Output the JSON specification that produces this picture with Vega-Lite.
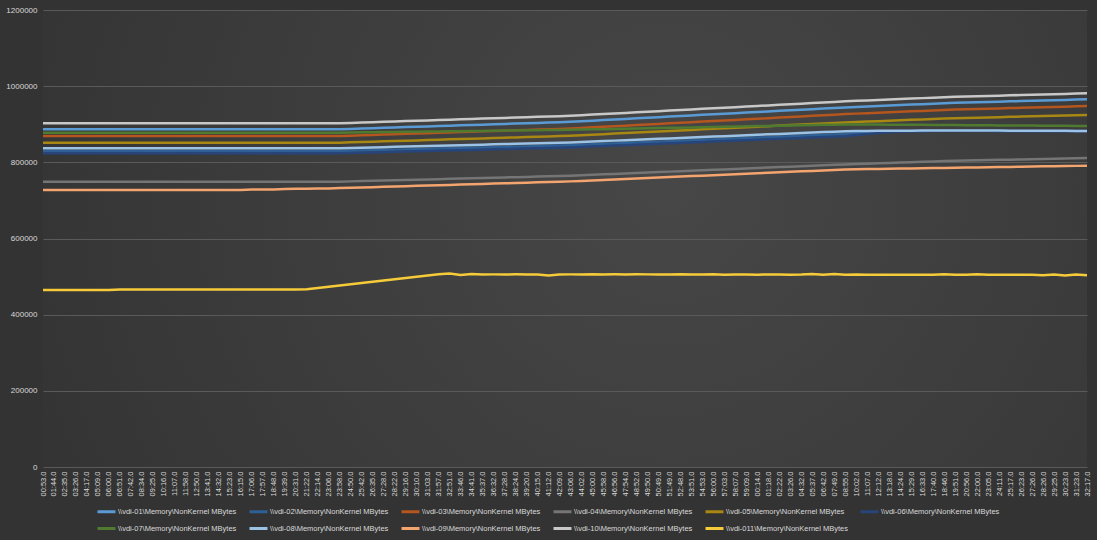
{
"$schema": "https://vega.github.io/schema/vega-lite/v6.json",
"width": 1044, "height": 457,
"autosize": {"type": "none"},
"padding": {"left": 43, "top": 10, "right": 10, "bottom": 73},
"background": "#333333",
"config": {
 "font": "Liberation Sans",
 "view": {"stroke": null, "fill": {"gradient": "radial", "x1": 0.6, "y1": 0.45, "x2": 0.6, "y2": 0.45, "r1": 0, "r2": 0.75, "stops": [{"offset": 0, "color": "#474747"}, {"offset": 1, "color": "#313131"}]}}
},
"data": {"values": [
{"t":"0:00:53.0","v01":886800,"v02":829500,"v03":869100,"v04":749200,"v05":851600,"v06":823800,"v07":878000,"v08":836900,"v09":727400,"v10":902600,"v011":464800},
{"t":"0:01:44.0","v01":886800,"v02":829500,"v03":869100,"v04":749200,"v05":851600,"v06":823800,"v07":878000,"v08":836900,"v09":727400,"v10":902600,"v011":464800},
{"t":"0:02:35.0","v01":886800,"v02":829500,"v03":869100,"v04":749200,"v05":851600,"v06":823800,"v07":878000,"v08":836900,"v09":727400,"v10":902600,"v011":464800},
{"t":"0:03:26.0","v01":886800,"v02":829500,"v03":869100,"v04":749200,"v05":851600,"v06":823800,"v07":878000,"v08":836900,"v09":727400,"v10":902600,"v011":464800},
{"t":"0:04:17.0","v01":886800,"v02":829500,"v03":869100,"v04":749200,"v05":851600,"v06":823800,"v07":878000,"v08":836900,"v09":727400,"v10":902600,"v011":464800},
{"t":"0:05:09.0","v01":886800,"v02":829500,"v03":869100,"v04":749200,"v05":851600,"v06":823800,"v07":878000,"v08":836900,"v09":727400,"v10":902600,"v011":464800},
{"t":"0:06:00.0","v01":886800,"v02":829500,"v03":869100,"v04":749200,"v05":851600,"v06":823800,"v07":878000,"v08":836900,"v09":727400,"v10":902600,"v011":464800},
{"t":"0:06:51.0","v01":886800,"v02":829500,"v03":869100,"v04":749200,"v05":851600,"v06":823800,"v07":878000,"v08":836900,"v09":727400,"v10":902600,"v011":466200},
{"t":"0:07:42.0","v01":886800,"v02":829500,"v03":869100,"v04":749200,"v05":851600,"v06":823800,"v07":878000,"v08":836900,"v09":727400,"v10":902600,"v011":466200},
{"t":"0:08:34.0","v01":886800,"v02":829500,"v03":869100,"v04":749200,"v05":851600,"v06":823800,"v07":878000,"v08":836900,"v09":727400,"v10":902600,"v011":466200},
{"t":"0:09:25.0","v01":886800,"v02":829500,"v03":869100,"v04":749200,"v05":851600,"v06":823800,"v07":878000,"v08":836900,"v09":727400,"v10":902600,"v011":466200},
{"t":"0:10:16.0","v01":886800,"v02":829500,"v03":869100,"v04":749200,"v05":851600,"v06":823800,"v07":878000,"v08":836900,"v09":727400,"v10":902600,"v011":466200},
{"t":"0:11:07.0","v01":886800,"v02":829500,"v03":869100,"v04":749200,"v05":851600,"v06":823800,"v07":878000,"v08":836900,"v09":727400,"v10":902600,"v011":466200},
{"t":"0:11:58.0","v01":886800,"v02":829500,"v03":869100,"v04":749200,"v05":851600,"v06":823800,"v07":878000,"v08":836900,"v09":727400,"v10":902600,"v011":466200},
{"t":"0:12:50.0","v01":886800,"v02":829500,"v03":869100,"v04":749200,"v05":851600,"v06":823800,"v07":878000,"v08":836900,"v09":727400,"v10":902600,"v011":466200},
{"t":"0:13:41.0","v01":886800,"v02":829500,"v03":869100,"v04":749200,"v05":851600,"v06":823800,"v07":878000,"v08":836900,"v09":727400,"v10":902600,"v011":466200},
{"t":"0:14:32.0","v01":886800,"v02":829500,"v03":869100,"v04":749200,"v05":851600,"v06":823800,"v07":878000,"v08":836900,"v09":727400,"v10":902600,"v011":466200},
{"t":"0:15:23.0","v01":886800,"v02":829500,"v03":869100,"v04":749200,"v05":851600,"v06":823800,"v07":878000,"v08":836900,"v09":727400,"v10":902600,"v011":466200},
{"t":"0:16:15.0","v01":886800,"v02":829500,"v03":869100,"v04":749200,"v05":851600,"v06":823800,"v07":878000,"v08":836900,"v09":727400,"v10":902600,"v011":466200},
{"t":"0:17:06.0","v01":886800,"v02":829500,"v03":869100,"v04":749200,"v05":851600,"v06":823800,"v07":878000,"v08":836900,"v09":728800,"v10":902600,"v011":466200},
{"t":"0:17:57.0","v01":886800,"v02":829500,"v03":869100,"v04":749200,"v05":851600,"v06":823800,"v07":878000,"v08":836900,"v09":728800,"v10":902600,"v011":466200},
{"t":"0:18:48.0","v01":886800,"v02":829500,"v03":869100,"v04":749200,"v05":851600,"v06":823800,"v07":878000,"v08":836900,"v09":728800,"v10":902600,"v011":466200},
{"t":"0:19:39.0","v01":886800,"v02":829500,"v03":869100,"v04":749200,"v05":851600,"v06":823800,"v07":878000,"v08":836900,"v09":730200,"v10":902600,"v011":466200},
{"t":"0:20:31.0","v01":886800,"v02":829500,"v03":869100,"v04":749200,"v05":851600,"v06":823800,"v07":878000,"v08":836900,"v09":730500,"v10":902600,"v011":466200},
{"t":"0:21:22.0","v01":886800,"v02":829500,"v03":869100,"v04":749200,"v05":851600,"v06":823800,"v07":878000,"v08":836900,"v09":730800,"v10":902600,"v011":467000},
{"t":"0:22:14.0","v01":886800,"v02":829500,"v03":869100,"v04":749200,"v05":851600,"v06":823800,"v07":878000,"v08":836900,"v09":731000,"v10":902600,"v011":470300},
{"t":"0:23:06.0","v01":886800,"v02":829500,"v03":869100,"v04":749200,"v05":851600,"v06":823800,"v07":878000,"v08":836900,"v09":731500,"v10":902600,"v011":473500},
{"t":"0:23:58.0","v01":886800,"v02":829500,"v03":869100,"v04":749200,"v05":851600,"v06":823800,"v07":878000,"v08":836900,"v09":732300,"v10":902600,"v011":476700},
{"t":"0:24:50.0","v01":887700,"v02":830200,"v03":870000,"v04":750000,"v05":852500,"v06":824500,"v07":878400,"v08":837600,"v09":733200,"v10":903500,"v011":480000},
{"t":"0:25:42.0","v01":888700,"v02":831000,"v03":871000,"v04":750700,"v05":853300,"v06":825300,"v07":878700,"v08":838400,"v09":734000,"v10":904500,"v011":483200},
{"t":"0:26:35.0","v01":889600,"v02":831700,"v03":871900,"v04":751400,"v05":854200,"v06":826000,"v07":879100,"v08":839100,"v09":734900,"v10":905400,"v011":486400},
{"t":"0:27:28.0","v01":890600,"v02":832500,"v03":872900,"v04":752200,"v05":855100,"v06":826800,"v07":879400,"v08":839900,"v09":735700,"v10":906400,"v011":489700},
{"t":"0:28:22.0","v01":891500,"v02":833200,"v03":873800,"v04":752900,"v05":856000,"v06":827500,"v07":879800,"v08":840600,"v09":736500,"v10":907300,"v011":492900},
{"t":"0:29:16.0","v01":892500,"v02":833900,"v03":874800,"v04":753700,"v05":856800,"v06":828200,"v07":880100,"v08":841300,"v09":737400,"v10":908300,"v011":496100},
{"t":"0:30:10.0","v01":893300,"v02":834600,"v03":875600,"v04":754400,"v05":857600,"v06":828900,"v07":880500,"v08":842000,"v09":738200,"v10":909100,"v011":499400},
{"t":"0:31:03.0","v01":894300,"v02":835300,"v03":876600,"v04":755100,"v05":858500,"v06":829600,"v07":880800,"v08":842700,"v09":739100,"v10":910100,"v011":502600},
{"t":"0:31:57.0","v01":895200,"v02":836100,"v03":877500,"v04":755900,"v05":859400,"v06":830400,"v07":881200,"v08":843500,"v09":739900,"v10":911000,"v011":505900},
{"t":"0:32:51.0","v01":896200,"v02":836900,"v03":878500,"v04":756700,"v05":860300,"v06":831200,"v07":881600,"v08":844300,"v09":740700,"v10":912000,"v011":508200},
{"t":"0:33:46.0","v01":897200,"v02":837600,"v03":879500,"v04":757400,"v05":861200,"v06":831900,"v07":881900,"v08":845000,"v09":741600,"v10":913000,"v011":504000},
{"t":"0:34:41.0","v01":898100,"v02":838300,"v03":880400,"v04":758100,"v05":862000,"v06":832600,"v07":882200,"v08":845700,"v09":742400,"v10":913900,"v011":506500},
{"t":"0:35:37.0","v01":899000,"v02":839000,"v03":881300,"v04":758800,"v05":862900,"v06":833300,"v07":882600,"v08":846400,"v09":743300,"v10":914800,"v011":505500},
{"t":"0:36:32.0","v01":899900,"v02":839800,"v03":882200,"v04":759600,"v05":863800,"v06":834100,"v07":882900,"v08":847200,"v09":744100,"v10":915700,"v011":505800},
{"t":"0:37:28.0","v01":900900,"v02":840500,"v03":883200,"v04":760300,"v05":864600,"v06":834800,"v07":883300,"v08":847900,"v09":744900,"v10":916700,"v011":505600},
{"t":"0:38:24.0","v01":901800,"v02":841200,"v03":884100,"v04":761100,"v05":865500,"v06":835500,"v07":883700,"v08":848600,"v09":745800,"v10":917600,"v011":505900},
{"t":"0:39:20.0","v01":902700,"v02":841900,"v03":885000,"v04":761800,"v05":866300,"v06":836200,"v07":884000,"v08":849300,"v09":746600,"v10":918500,"v011":505700},
{"t":"0:40:15.0","v01":903600,"v02":842600,"v03":885900,"v04":762500,"v05":867200,"v06":836900,"v07":884300,"v08":850000,"v09":747500,"v10":919400,"v011":505400},
{"t":"0:41:12.0","v01":904600,"v02":843400,"v03":886900,"v04":763300,"v05":868100,"v06":837700,"v07":884700,"v08":850800,"v09":748300,"v10":920400,"v011":502800},
{"t":"0:42:09.0","v01":905500,"v02":844100,"v03":887800,"v04":764000,"v05":868900,"v06":838400,"v07":885000,"v08":851500,"v09":749100,"v10":921300,"v011":505500},
{"t":"0:43:06.0","v01":906500,"v02":844900,"v03":888800,"v04":764800,"v05":869800,"v06":839200,"v07":885400,"v08":852300,"v09":750000,"v10":922300,"v011":505800},
{"t":"0:44:02.0","v01":908000,"v02":846000,"v03":890300,"v04":765900,"v05":871200,"v06":840300,"v07":886000,"v08":853400,"v09":751300,"v10":923800,"v011":505600},
{"t":"0:45:00.0","v01":909500,"v02":847200,"v03":891800,"v04":767200,"v05":872600,"v06":841500,"v07":886600,"v08":854600,"v09":752500,"v10":925300,"v011":506000},
{"t":"0:45:58.0","v01":911000,"v02":848400,"v03":893300,"v04":768400,"v05":874000,"v06":842700,"v07":887100,"v08":855800,"v09":753800,"v10":926800,"v011":505700},
{"t":"0:46:56.0","v01":912500,"v02":849600,"v03":894800,"v04":769500,"v05":875400,"v06":843900,"v07":887700,"v08":857000,"v09":755000,"v10":928300,"v011":505900},
{"t":"0:47:54.0","v01":914000,"v02":850700,"v03":896300,"v04":770700,"v05":876800,"v06":845000,"v07":888200,"v08":858100,"v09":756300,"v10":929800,"v011":505500},
{"t":"0:48:52.0","v01":915600,"v02":852000,"v03":897900,"v04":772000,"v05":878200,"v06":846300,"v07":888800,"v08":859400,"v09":757500,"v10":931400,"v011":506100},
{"t":"0:49:50.0","v01":917100,"v02":853100,"v03":899400,"v04":773200,"v05":879600,"v06":847400,"v07":889400,"v08":860500,"v09":758800,"v10":932900,"v011":505800},
{"t":"0:50:49.0","v01":918600,"v02":854300,"v03":900900,"v04":774300,"v05":881000,"v06":848600,"v07":890000,"v08":861700,"v09":760000,"v10":934400,"v011":505600},
{"t":"0:51:49.0","v01":920200,"v02":855500,"v03":902500,"v04":775600,"v05":882500,"v06":849800,"v07":890600,"v08":862900,"v09":761300,"v10":936000,"v011":505200},
{"t":"0:52:48.0","v01":921700,"v02":856700,"v03":904000,"v04":776800,"v05":883900,"v06":851000,"v07":891100,"v08":864100,"v09":762500,"v10":937500,"v011":506000},
{"t":"0:53:51.0","v01":923200,"v02":857900,"v03":905500,"v04":777900,"v05":885200,"v06":852200,"v07":891700,"v08":865300,"v09":763800,"v10":939000,"v011":505700},
{"t":"0:54:53.0","v01":924700,"v02":859000,"v03":907000,"v04":779100,"v05":886600,"v06":853300,"v07":892200,"v08":866400,"v09":765000,"v10":940500,"v011":505400},
{"t":"0:56:00.0","v01":926200,"v02":860200,"v03":908500,"v04":780300,"v05":888000,"v06":854500,"v07":892800,"v08":867600,"v09":766300,"v10":942000,"v011":505800},
{"t":"0:57:03.0","v01":927600,"v02":861400,"v03":909900,"v04":781500,"v05":889400,"v06":855700,"v07":893400,"v08":868800,"v09":767500,"v10":943400,"v011":504900},
{"t":"0:58:07.0","v01":929100,"v02":862500,"v03":911400,"v04":782700,"v05":890800,"v06":856800,"v07":893900,"v08":869900,"v09":768800,"v10":944900,"v011":505600},
{"t":"0:59:09.0","v01":930700,"v02":863800,"v03":913000,"v04":783900,"v05":892200,"v06":858100,"v07":894500,"v08":871200,"v09":770000,"v10":946500,"v011":505300},
{"t":"1:00:14.0","v01":932200,"v02":864900,"v03":914500,"v04":785100,"v05":893600,"v06":859200,"v07":895100,"v08":872300,"v09":771300,"v10":948000,"v011":505000},
{"t":"1:01:18.0","v01":933700,"v02":866100,"v03":916000,"v04":786300,"v05":895000,"v06":860400,"v07":895600,"v08":873500,"v09":772500,"v10":949500,"v011":505500},
{"t":"1:02:22.0","v01":935200,"v02":867300,"v03":917500,"v04":787500,"v05":896400,"v06":861600,"v07":896200,"v08":874700,"v09":773800,"v10":951000,"v011":505200},
{"t":"1:03:26.0","v01":936700,"v02":868400,"v03":919000,"v04":788600,"v05":897800,"v06":862700,"v07":896800,"v08":875800,"v09":775000,"v10":952500,"v011":504800},
{"t":"1:04:32.0","v01":938200,"v02":869600,"v03":920500,"v04":789800,"v05":899100,"v06":863900,"v07":897300,"v08":877000,"v09":776300,"v10":954000,"v011":505300},
{"t":"1:05:37.0","v01":939700,"v02":870800,"v03":922000,"v04":791000,"v05":900500,"v06":865100,"v07":897900,"v08":878200,"v09":777500,"v10":955500,"v011":506800},
{"t":"1:06:42.0","v01":941300,"v02":872000,"v03":923600,"v04":792200,"v05":902000,"v06":866300,"v07":898500,"v08":879400,"v09":778800,"v10":957100,"v011":505000},
{"t":"1:07:49.0","v01":942800,"v02":873200,"v03":925100,"v04":793400,"v05":903400,"v06":867500,"v07":899000,"v08":880600,"v09":780000,"v10":958600,"v011":506500},
{"t":"1:08:55.0","v01":944300,"v02":874300,"v03":926600,"v04":794600,"v05":904700,"v06":868600,"v07":899600,"v08":881700,"v09":781300,"v10":960100,"v011":504800},
{"t":"1:10:02.0","v01":945600,"v02":876500,"v03":927900,"v04":795700,"v05":906000,"v06":871500,"v07":899500,"v08":882200,"v09":781700,"v10":961400,"v011":505200},
{"t":"1:11:07.0","v01":946800,"v02":878500,"v03":929100,"v04":796600,"v05":907100,"v06":874500,"v07":899400,"v08":882500,"v09":782200,"v10":962600,"v011":504600},
{"t":"1:12:12.0","v01":948000,"v02":880000,"v03":930300,"v04":797600,"v05":908200,"v06":877000,"v07":899200,"v08":882700,"v09":782600,"v10":963800,"v011":505000},
{"t":"1:13:18.0","v01":949200,"v02":881200,"v03":931500,"v04":798500,"v05":909300,"v06":879000,"v07":899000,"v08":882900,"v09":783100,"v10":965000,"v011":504700},
{"t":"1:14:24.0","v01":950400,"v02":882000,"v03":932700,"v04":799500,"v05":910400,"v06":880500,"v07":898800,"v08":883000,"v09":783500,"v10":966200,"v011":504900},
{"t":"1:15:29.0","v01":951600,"v02":882500,"v03":933900,"v04":800500,"v05":911600,"v06":881300,"v07":898600,"v08":883200,"v09":784000,"v10":967400,"v011":504500},
{"t":"1:16:33.0","v01":952800,"v02":882600,"v03":935100,"v04":801400,"v05":912700,"v06":881800,"v07":898400,"v08":883300,"v09":784400,"v10":968600,"v011":505000},
{"t":"1:17:40.0","v01":954000,"v02":882700,"v03":936300,"v04":802300,"v05":913800,"v06":882000,"v07":898200,"v08":883400,"v09":784900,"v10":969800,"v011":504600},
{"t":"1:18:46.0","v01":955300,"v02":882800,"v03":937600,"v04":803300,"v05":914900,"v06":882100,"v07":898000,"v08":883500,"v09":785300,"v10":971100,"v011":506200},
{"t":"1:19:51.0","v01":956200,"v02":882800,"v03":938500,"v04":804100,"v05":915800,"v06":882200,"v07":897800,"v08":883500,"v09":785800,"v10":972000,"v011":504700},
{"t":"1:20:56.0","v01":957000,"v02":882800,"v03":939300,"v04":804700,"v05":916500,"v06":882200,"v07":897600,"v08":883400,"v09":786200,"v10":972800,"v011":504900},
{"t":"1:22:00.0","v01":957800,"v02":882700,"v03":940100,"v04":805300,"v05":917300,"v06":882100,"v07":897400,"v08":883400,"v09":786700,"v10":973600,"v011":506300},
{"t":"1:23:05.0","v01":958600,"v02":882700,"v03":940900,"v04":805900,"v05":918000,"v06":882100,"v07":897200,"v08":883300,"v09":787100,"v10":974400,"v011":504800},
{"t":"1:24:11.0","v01":959300,"v02":882600,"v03":941600,"v04":806500,"v05":918700,"v06":882000,"v07":897000,"v08":883300,"v09":787600,"v10":975100,"v011":505100},
{"t":"1:25:17.0","v01":960100,"v02":882600,"v03":942400,"v04":807100,"v05":919400,"v06":882000,"v07":896800,"v08":883200,"v09":788000,"v10":975900,"v011":504600},
{"t":"1:26:23.0","v01":960900,"v02":882500,"v03":943200,"v04":807700,"v05":920100,"v06":881900,"v07":896600,"v08":883100,"v09":788500,"v10":976700,"v011":505000},
{"t":"1:27:26.0","v01":961600,"v02":882500,"v03":943900,"v04":808400,"v05":920800,"v06":881900,"v07":896400,"v08":883000,"v09":788900,"v10":977400,"v011":504700},
{"t":"1:28:26.0","v01":962400,"v02":882400,"v03":944700,"v04":809000,"v05":921600,"v06":881800,"v07":896200,"v08":882900,"v09":789400,"v10":978200,"v011":503200},
{"t":"1:29:25.0","v01":963200,"v02":882400,"v03":945500,"v04":809600,"v05":922300,"v06":881800,"v07":896000,"v08":882800,"v09":789800,"v10":979000,"v011":505400},
{"t":"1:30:23.0","v01":963900,"v02":882300,"v03":946200,"v04":810200,"v05":922900,"v06":881700,"v07":895800,"v08":882700,"v09":790300,"v10":979700,"v011":503000},
{"t":"1:31:23.0","v01":964700,"v02":882300,"v03":947000,"v04":810800,"v05":923700,"v06":881700,"v07":895600,"v08":882600,"v09":790700,"v10":980500,"v011":505300},
{"t":"1:32:17.0","v01":965500,"v02":882200,"v03":947800,"v04":811400,"v05":924400,"v06":881600,"v07":895400,"v08":882500,"v09":791200,"v10":981300,"v011":503500}
]},
"transform": [{"fold": ["v01","v02","v03","v04","v05","v06","v07","v08","v09","v10","v011"], "as": ["series","value"]}],
"mark": {"type": "line", "strokeWidth": 2.5},
"encoding": {
 "x": {"field": "t", "type": "ordinal", "sort": null, "scale": {"type": "point", "padding": 0},
  "axis": {"title": null, "labelAngle": -90, "labelExpr": "slice(datum.label, 2)", "labelFontSize": 7.5, "labelColor": "#d9d9d9", "labelOverlap": false, "ticks": false, "domain": false, "grid": false, "labelPadding": 4}},
 "y": {"field": "value", "type": "quantitative", "scale": {"domain": [0, 1200000], "nice": false},
  "axis": {"title": null, "values": [0, 200000, 400000, 600000, 800000, 1000000, 1200000], "format": "d", "labelFontSize": 8, "labelColor": "#d9d9d9", "ticks": false, "domain": false, "gridColor": "#5a5a5a", "gridWidth": 1, "labelPadding": 6}},
 "color": {"field": "series", "type": "nominal",
  "scale": {"domain": ["v01","v02","v03","v04","v05","v06","v07","v08","v09","v10","v011"],
   "range": ["#5B9BD5","#2E6096","#B4561E","#757575","#A88712","#27457A","#4F7A30","#9CC2E5","#F4A46E","#C8C8C8","#F6CB3A"]},
  "legend": {"orient": "none", "legendX": 53, "legendY": 491, "direction": "horizontal", "columns": 6, "title": null,
   "symbolType": "stroke", "symbolSize": 324, "symbolStrokeWidth": 3, "labelFontSize": 7.5, "labelColor": "#d9d9d9",
   "labelExpr": "'\\\\\\\\vdi-' + slice(datum.label, 1) + '\\\\Memory\\\\NonKernel MBytes'", "labelLimit": 300, "columnPadding": 6, "rowPadding": -2, "labelOffset": 1}}
}
}
